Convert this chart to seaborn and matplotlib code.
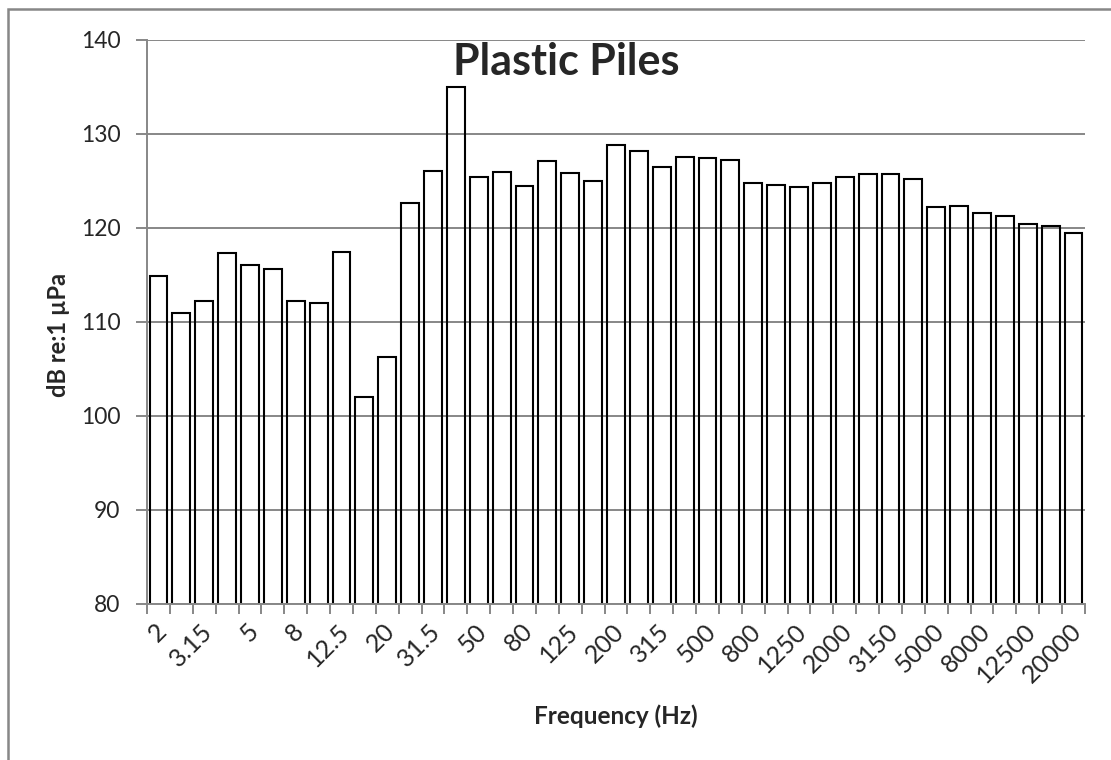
"""Plastic Piles: 1/3-octave band levels, bar chart."""

import matplotlib

matplotlib.use("Agg")

import matplotlib.pyplot as plt
import matplotlib.transforms as mtransforms
import seaborn as sns
from matplotlib.patches import Rectangle
from matplotlib.ticker import FixedLocator

FREQUENCIES = [
    "2", "2.5", "3.15", "4", "5", "6.3", "8", "10", "12.5", "16", "20",
    "25", "31.5", "40", "50", "63", "80", "100", "125", "160", "200",
    "250", "315", "400", "500", "630", "800", "1000", "1250", "1600", "2000",
    "2500", "3150", "4000", "5000", "6300", "8000", "10000", "12500", "16000", "20000",
]
LEVELS_DB = [
    114.9, 111.0, 112.2, 117.3, 116.1, 115.6, 112.2, 112.0, 117.5, 102.0, 106.3,
    122.7, 126.1, 135.0, 125.4, 126.0, 124.5, 127.1, 125.9, 125.0, 128.8,
    128.2, 126.5, 127.6, 127.4, 127.2, 124.8, 124.6, 124.4, 124.8, 125.4,
    125.7, 125.7, 125.2, 122.2, 122.3, 121.6, 121.3, 120.4, 120.2, 119.5,
]
TICK_LABELS = FREQUENCIES[::2]
Y_TICKS = [80, 90, 100, 110, 120, 130, 140]

GRAY = "#878787"

sns.set_theme(style="white")
plt.rcParams["font.family"] = ["Lato", "DejaVu Sans"]

fig = plt.figure(figsize=(11.11, 7.6), dpi=100)
ax = fig.add_axes([147 / 1111, 1 - 604 / 760, (1085 - 147) / 1111, (604 - 40) / 760])

sns.barplot(
    x=FREQUENCIES,
    y=LEVELS_DB,
    order=FREQUENCIES,
    color="white",
    edgecolor="black",
    linewidth=1.5,
    width=0.78,
    saturation=1,
    ax=ax,
)
for bar in ax.patches:
    bar.set_facecolor("none")

ax.set_ylim(80, 140)
ax.set_xlim(-0.5, len(FREQUENCIES) - 0.5)
ax.set_yticks(Y_TICKS)
ax.yaxis.grid(True, color=GRAY, linewidth=1.4)
ax.set_axisbelow(True)

for side in ["top", "right"]:
    ax.spines[side].set_visible(False)
for side in ["left", "bottom"]:
    ax.spines[side].set_color(GRAY)
    ax.spines[side].set_linewidth(1.4)

# labels on every other band, tick marks between bands (Excel style)
ax.set_xticks(range(0, len(FREQUENCIES), 2))
ax.set_xticklabels(TICK_LABELS, rotation=45, ha="right", va="center", rotation_mode="anchor")
ax.xaxis.set_minor_locator(FixedLocator([i - 0.5 for i in range(len(FREQUENCIES) + 1)]))
ax.tick_params(axis="x", which="major", bottom=True, length=0, pad=17, labelsize=18)
ax.tick_params(axis="x", which="minor", bottom=True, length=7, width=1.4, color=GRAY, direction="out")
ax.tick_params(axis="y", left=True, length=8, width=1.4, color=GRAY, direction="out",
               pad=11, labelsize=16.5)
shift = mtransforms.ScaledTranslation(3 / 72, 0, fig.dpi_scale_trans)
for lbl in ax.get_xticklabels():
    lbl.set_transform(lbl.get_transform() + shift)

ax.set_xlabel("")
ax.set_ylabel("")
fig.text(566 / 1111, 1 - 75 / 760, "Plastic Piles", ha="center", va="baseline",
         fontsize=31, fontweight="bold")
fig.text(58 / 1111, 1 - 335 / 760, "dB re:1 µPa", rotation=90, ha="center", va="center",
         fontsize=17, fontweight="bold")
fig.text(616 / 1111, 1 - 716 / 760, "Frequency (Hz)", ha="center", va="center",
         fontsize=17.5, fontweight="bold")

# chart-area border (cropped at right and bottom)
fig.add_artist(Rectangle((8 / 1111, -0.1), 1.2, 1 - 9.5 / 760 + 0.1, transform=fig.transFigure,
                         fill=False, edgecolor=GRAY, linewidth=1.8))

fig.savefig("out.png", dpi=100)
